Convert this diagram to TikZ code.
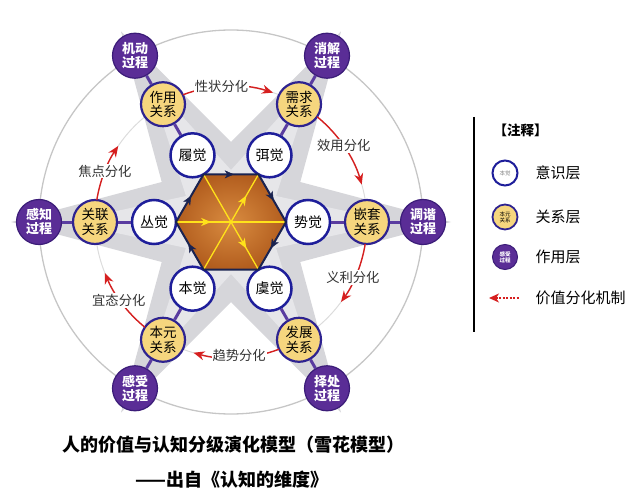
\documentclass[tikz,border=0pt]{standalone}
\usepackage{fontspec}
\setmainfont{Noto Sans CJK SC}
\usetikzlibrary{arrows.meta,decorations.markings,calc}
\definecolor{procfill}{HTML}{5A2D96}
\definecolor{procdraw}{HTML}{3B1C78}
\definecolor{relfill}{HTML}{F6D67E}
\definecolor{reldraw}{HTML}{2E2390}
\definecolor{innerdraw}{HTML}{1E1E9A}
\definecolor{connc}{HTML}{5A3CA0}
\definecolor{hexnavy}{HTML}{1A2350}
\definecolor{hexin}{HTML}{D98C40}
\definecolor{hexout}{HTML}{B25D1E}
\definecolor{yel}{HTML}{FFE21A}
\definecolor{starout}{HTML}{D6D6DA}
\definecolor{starin}{HTML}{E6E6E9}
\definecolor{ringc}{HTML}{C6C6C6}
\definecolor{ringi}{HTML}{DCDCDC}
\definecolor{redc}{HTML}{D61F1F}
\definecolor{labc}{HTML}{333333}
\tikzset{
  innernode/.style={circle, minimum size=44pt, inner sep=0pt, draw=innerdraw, line width=2.5pt, fill=white, font=\fontsize{14}{15}\selectfont},
  relnode/.style={circle, minimum size=44pt, inner sep=0pt, draw=reldraw, line width=2.2pt, fill=relfill, align=center, font=\fontsize{13.5}{14.5}\selectfont},
  procnode/.style={circle, minimum size=45pt, inner sep=0pt, draw=procdraw, line width=1.2pt, fill=procfill, text=white, align=center, font=\fontsize{13}{14}\selectfont\bfseries},
  conn/.style={draw=connc, line width=3pt},
  redarc/.style={draw=redc, line width=1.4pt, -{Stealth[length=11pt,width=9pt,inset=3.5pt]}},
  arclabel/.style={fill=white, inner sep=1pt, text=labc, font=\fontsize{13.3}{14}\selectfont},
  hexarrow/.style={postaction={decorate}, decoration={markings, mark=at position 0.55 with {\arrow[hexnavy]{Stealth[length=9pt,width=8pt,inset=2.5pt]}}}},
  yelline/.style={draw=yel, line width=1.3pt},
  yelarrow/.style={postaction={decorate}, decoration={markings, mark=at position #1 with {\arrow[yel]{Stealth[length=10pt,width=8pt,inset=3pt]}}}},
  legtext/.style={anchor=west, font=\fontsize{15}{16}\selectfont},
}
\begin{document}
\begin{tikzpicture}[x=1pt,y=1pt]
\useasboundingbox (0,0) rectangle (632,-500);
\coordinate (c) at (231,-222);

% background star
\begin{scope}[shift={(231,-222)}]
\fill[starout] (0:220) -- (30:80) -- (60:220) -- (90:80) -- (120:220) -- (150:80) -- (180:220) -- (210:80) -- (240:220) -- (270:80) -- (300:220) -- (330:80) -- cycle;
\fill[starin] (0:165) -- (30:52) -- (60:165) -- (90:52) -- (120:165) -- (150:52) -- (180:165) -- (210:52) -- (240:165) -- (270:52) -- (300:165) -- (330:52) -- cycle;
\draw[ringc, line width=1.3pt] (0,0) circle[radius=192];
\draw[ringi, line width=1pt] (0,0) circle[radius=136];
\end{scope}

% hexagon vertices
\foreach \a in {0,60,120,180,240,300} {\coordinate (v\a) at ($(c)+(\a:55)$);}

% nodes
\node[innernode] (lv) at ($(c)+(120:77)$) {履觉};
\node[innernode] (mi) at ($(c)+(60:77)$) {弭觉};
\node[innernode] (co) at ($(c)+(180:77)$) {丛觉};
\node[innernode] (sh) at ($(c)+(0:77)$) {势觉};
\node[innernode] (be) at ($(c)+(240:77)$) {本觉};
\node[innernode] (yu) at ($(c)+(300:77)$) {虞觉};

\node[relnode] (zy) at ($(c)+(120:136)$) {作用\\关系};
\node[relnode] (xq) at ($(c)+(60:136)$) {需求\\关系};
\node[relnode] (gl) at ($(c)+(180:136)$) {关联\\关系};
\node[relnode] (qt) at ($(c)+(0:136)$) {嵌套\\关系};
\node[relnode] (by) at ($(c)+(240:136)$) {本元\\关系};
\node[relnode] (fz) at ($(c)+(300:136)$) {发展\\关系};

\node[procnode] (jd) at ($(c)+(120:192)$) {机动\\过程};
\node[procnode] (xj) at ($(c)+(60:192)$) {消解\\过程};
\node[procnode] (gz) at ($(c)+(180:192)$) {感知\\过程};
\node[procnode] (tx) at ($(c)+(0:192)$) {调谐\\过程};
\node[procnode] (gs) at ($(c)+(240:192)$) {感受\\过程};
\node[procnode] (zc) at ($(c)+(300:192)$) {择处\\过程};

% connectors
\foreach \i/\r/\p in {lv/zy/jd, mi/xq/xj, co/gl/gz, sh/qt/tx, be/by/gs, yu/fz/zc} {
  \draw[conn] (\i) -- (\r);
  \draw[conn] (\r) -- (\p);
}

% hexagon
\shade[inner color=hexin, outer color=hexout] (v0) -- (v60) -- (v120) -- (v180) -- (v240) -- (v300) -- cycle;
\draw[yelline, yelarrow=0.32] (v180) -- (v0);
\draw[yelline, yelarrow=0.78] (v240) -- (v60);
\draw[yelline, yelarrow=0.78] (v120) -- (v300);
\draw[hexnavy, line width=2pt, line join=round] (v0) -- (v60) -- (v120) -- (v180) -- (v240) -- (v300) -- cycle;
\path[hexarrow] (v120) -- (v60);
\path[hexarrow] (v60) -- (v0);
\path[hexarrow] (v0) -- (v300);
\path[hexarrow] (v240) -- (v180);
\path[hexarrow] (v180) -- (v120);

% red differentiation arcs
\draw[redarc] ($(c)+(110.7:136)$) arc[start angle=110.7, end angle=72, radius=136];
\node[arclabel] (l1) at ($(c)+(94:136)$) {性状分化};
\draw[redarc] ($(c)+(50.7:136)$) arc[start angle=50.7, end angle=16, radius=136];
\node[arclabel] (l2) at ($(c)+(34:136)$) {效用分化};
\draw[redarc] ($(c)+(-9.3:136)$) arc[start angle=-9.3, end angle=-36, radius=136];
\node[arclabel] (l3) at ($(c)+(-24.5:134)$) {义利分化};
\draw[redarc] ($(c)+(-69.3:136)$) arc[start angle=-69.3, end angle=-106, radius=136];
\node[arclabel] (l4) at ($(c)+(-86.5:134)$) {趋势分化};
\draw[redarc] ($(c)+(-129.3:136)$) arc[start angle=-129.3, end angle=-158, radius=136];
\node[arclabel] (l5) at ($(c)+(-145:137)$) {宜态分化};
\draw[redarc] ($(c)+(170.7:136)$) arc[start angle=170.7, end angle=146, radius=136];
\node[arclabel] (l6) at ($(c)+(158:136)$) {焦点分化};

% legend
\coordinate (lt) at (474,-117);
\coordinate (lb) at (474,-332);
\draw[black, line width=2.5pt] (lt) -- (lb);
\node[anchor=west, font=\fontsize{13.5}{14}\selectfont\bfseries] (lh) at (490,-130) {【注释】};
\node[circle, minimum size=25pt, inner sep=0pt, draw=innerdraw, line width=2pt, fill=white, text=gray, font=\fontsize{5.5}{6}\selectfont] (k1) at (505,-173) {本觉};
\node[circle, minimum size=25pt, inner sep=0pt, draw=reldraw, line width=1.8pt, fill=relfill, align=center, font=\fontsize{5.5}{6}\selectfont] (k2) at (505,-217) {本元\\关系};
\node[circle, minimum size=25pt, inner sep=0pt, draw=procdraw, line width=1pt, fill=procfill, text=white, align=center, font=\fontsize{5.5}{6}\selectfont\bfseries] (k3) at (505,-257) {感受\\过程};
\node[legtext] (t1) at (532,-173) {意识层};
\node[legtext] (t2) at (532,-217) {关系层};
\node[legtext] (t3) at (532,-257) {作用层};
\node[legtext] (t4) at (532,-298) {价值分化机制};
\coordinate (ka) at (489,-298);
\coordinate (kb) at (519,-298);
\draw[redc, line width=1.3pt, dash pattern=on 2pt off 1.5pt, {Stealth[length=10pt,width=9pt,inset=3pt]}-] (ka) -- (kb);

% title
\node[font=\fontsize{18}{20}\selectfont\bfseries] (title) at (233,-445) {人的价值与认知分级演化模型（雪花模型）};
\node[font=\fontsize{18}{20}\selectfont\bfseries] (sub) at (232,-480) {——出自《认知的维度》};
\end{tikzpicture}
\end{document}
